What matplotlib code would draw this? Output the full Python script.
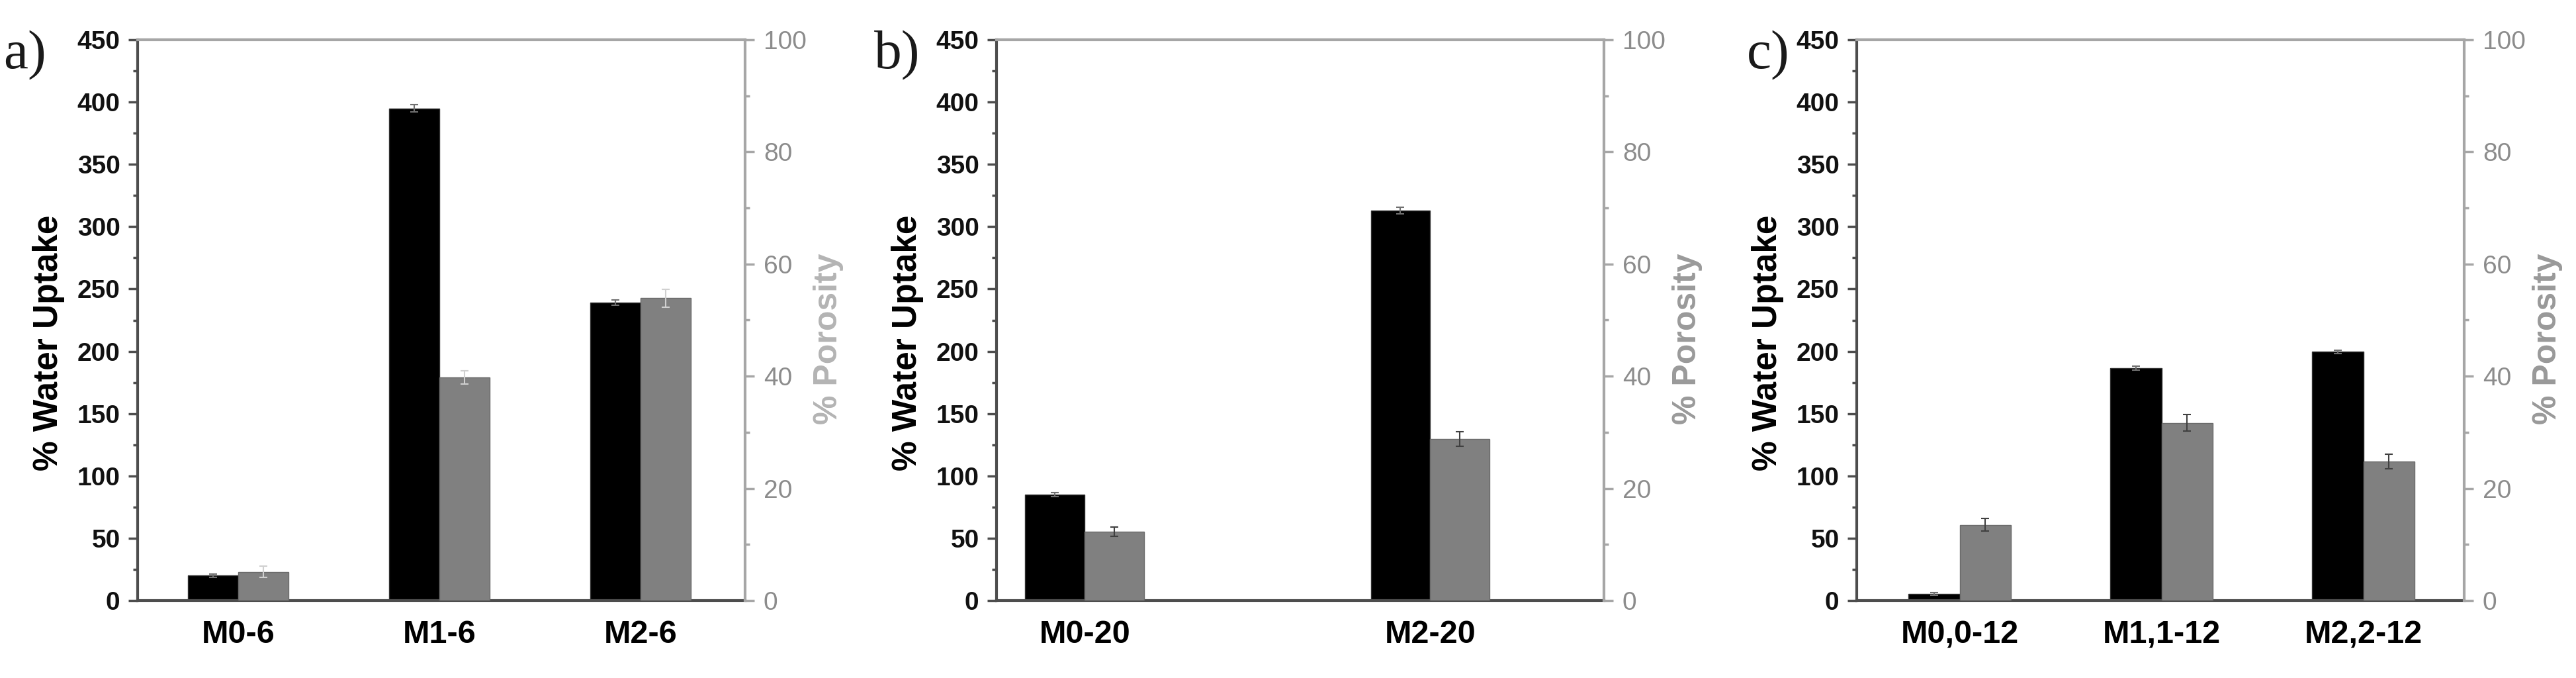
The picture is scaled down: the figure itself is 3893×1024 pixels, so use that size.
import numpy as np
import matplotlib.pyplot as plt
from matplotlib.ticker import MultipleLocator

# a) series 6
samples_a = ["M0-6", "M1-6", "M2-6"]
water_a = [20, 395, 239]
water_err_a = [1.5, 3, 2]
poro_a = [5.1, 39.8, 53.9]
poro_err_a = [1.0, 1.2, 1.6]

# b) series 20
samples_b = ["M0-20", "M2-20"]
water_b = [85, 313]
water_err_b = [1.5, 2.5]
poro_b = [12.3, 28.8]
poro_err_b = [0.8, 1.3]

# c) series 12
samples_c = ["M0,0-12", "M1,1-12", "M2,2-12"]
water_c = [5.5, 186.5, 199.5]
water_err_c = [1.0, 1.5, 1.5]
poro_c = [13.5, 31.7, 24.8]
poro_err_c = [1.1, 1.5, 1.3]

BOLD = ['Liberation Sans', 'DejaVu Sans']
NARROW = ['Liberation Sans Narrow', 'Liberation Sans', 'DejaVu Sans']
SERIF = ['Liberation Serif', 'DejaVu Serif']
W, H = 3893, 1024


def panel(fig, left_px, letter, letter_x, samples, water, werr, poro, perr,
          width, xlim, poro_ecolor, poro_label_color):
    ax = fig.add_axes([left_px / W, 1 - 907 / H, 918 / W, 847 / H])
    ax2 = ax.twinx()
    x = np.arange(len(samples))

    ax.bar(x - width / 2, water, width, color='black', edgecolor='#333333',
           linewidth=1, yerr=werr, ecolor='#707070', capsize=4,
           error_kw=dict(elinewidth=1.5, capthick=1.5))
    ax2.bar(x + width / 2, poro, width, color='#808080', edgecolor='#6a6a6a',
            linewidth=1, yerr=perr, ecolor=poro_ecolor, capsize=4,
            error_kw=dict(elinewidth=1.5, capthick=1.5))

    ax.set_xlim(*xlim)
    ax.set_ylim(0, 450)
    ax2.set_ylim(0, 100)
    ax.yaxis.set_major_locator(MultipleLocator(50))
    ax.yaxis.set_minor_locator(MultipleLocator(25))
    ax2.yaxis.set_major_locator(MultipleLocator(20))
    ax2.yaxis.set_minor_locator(MultipleLocator(10))

    ax.set_xticks(x)
    ax.set_xticklabels(samples, family=NARROW, weight='bold', fontsize=35)
    ax.tick_params(axis='x', length=0, pad=21)
    ax.tick_params(axis='y', which='major', length=10, width=2.5,
                   color='#4d4d4d', pad=9)
    ax.tick_params(axis='y', which='minor', length=5, width=2.5,
                   color='#4d4d4d')
    for t in ax.get_yticklabels():
        t.set_family(BOLD)
        t.set_weight('bold')
        t.set_fontsize(28)
        t.set_color('#111111')

    ax2.tick_params(axis='y', which='major', length=10, width=2.5,
                    color='#a6a6a6', pad=10)
    ax2.tick_params(axis='y', which='minor', length=5, width=2.5,
                    color='#a6a6a6')
    for t in ax2.get_yticklabels():
        t.set_family(NARROW)
        t.set_fontsize(28)
        t.set_color('#8c8c8c')

    for s in ['left', 'bottom']:
        ax.spines[s].set_color('#4d4d4d')
        ax.spines[s].set_linewidth(3)
    ax.spines['top'].set_color('#a6a6a6')
    ax.spines['top'].set_linewidth(3)
    ax.spines['right'].set_visible(False)
    for s in ['left', 'bottom', 'top']:
        ax2.spines[s].set_visible(False)
    ax2.spines['right'].set_color('#a6a6a6')
    ax2.spines['right'].set_linewidth(3)

    ax.text(-0.146, 0.46, '% Water Uptake', transform=ax.transAxes,
            rotation=90, ha='center', va='center', family=BOLD,
            weight='bold', fontsize=37, color='black')
    ax.text(1.137, 0.466, '% Porosity', transform=ax.transAxes,
            rotation=90, ha='center', va='center', family=BOLD,
            weight='bold', fontsize=36, color=poro_label_color)
    ax.text(letter_x, 0.972, letter, transform=ax.transAxes, ha='right',
            va='center', family=SERIF, fontsize=60, color='#1a1a1a')


fig = plt.figure(figsize=(W / 100, H / 100), dpi=100)
panel(fig, 208, 'a)', -0.15, samples_a, water_a, water_err_a, poro_a,
      poro_err_a, 0.25, (-0.5, 2.52), '#d0d0d0', '#b4b4b4')
panel(fig, 1506, 'b)', -0.126, samples_b, water_b, water_err_b, poro_b,
      poro_err_b, 0.172, (-0.255, 1.503), '#404040', '#9a9a9a')
panel(fig, 2806, 'c)', -0.11, samples_c, water_c, water_err_c, poro_c,
      poro_err_c, 0.255, (-0.51, 2.5), '#404040', '#999999')
fig.savefig('out.png', dpi=100)
